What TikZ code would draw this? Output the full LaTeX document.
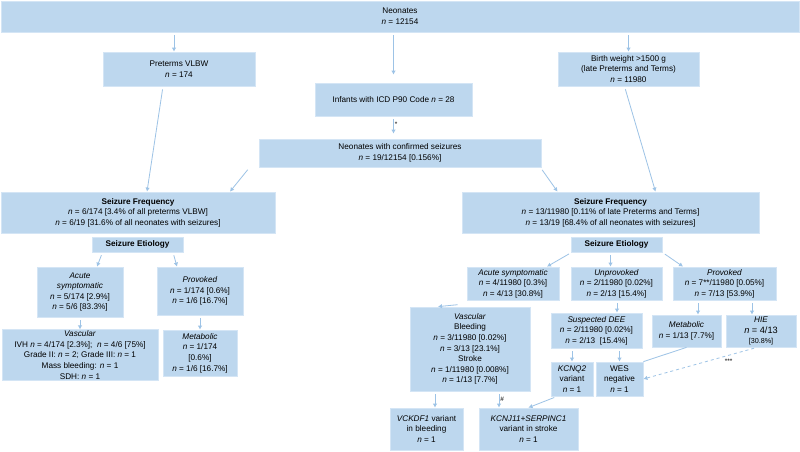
\documentclass[tikz,border=0pt]{standalone}
\usepackage{fontspec}
\setmainfont{Liberation Sans}
\setsansfont{Liberation Sans}
\usetikzlibrary{arrows.meta, positioning}
\definecolor{cfill}{HTML}{BDD7EE}
\definecolor{cedge}{HTML}{D4E5F5}
\definecolor{carrow}{HTML}{9DC3E6}
\newcommand{\nn}{\textit{n}}
\tikzset{
  every picture/.style={font=\sffamily\fontsize{8.2}{10.6}\selectfont, line width=0.8pt},
  box/.style={draw=cedge, fill=cfill, align=center, inner sep=1pt},
  sz/.style 2 args={minimum width=#1pt, minimum height=#2pt},
  arrow/.style={-{Latex[length=4pt, width=4.5pt]}, draw=carrow, line width=0.8pt, shorten <=3pt},
  link/.style={draw=carrow, line width=0.8pt},
  tag/.style={font=\sffamily\fontsize{6.5}{7}\selectfont, inner sep=1pt},
}

\begin{document}
\begin{tikzpicture}[x=1pt, y=-1pt]
  \useasboundingbox[fill=white] (0,0) rectangle (800,451);
  % top: whole cohort and its three groups
  \node[box, sz={798}{31}] (neo) at (400,16.5) {Neonates\\\nn{} = 12154};
  \node[box, sz={152}{34}] (vlbw) at (179,69) {Preterms VLBW\\\nn{} = 174};
  \node[box, sz={157}{33}] (icd) at (393.5,99.5) {Infants with ICD P90 Code \nn{} = 28};
  \node[box, sz={141}{34}] (bw) at (628.5,69) {Birth weight >1500 g\\(late Preterms and Terms)\\\nn{} = 11980};
  \node[box, sz={282}{28}] (conf) at (400,153) {Neonates with confirmed seizures\\\nn{} = 19/12154 [0.156\%]};
  % left branch: preterms VLBW
  \node[box, sz={274}{41}] (freqL) at (138,212.5) {\textbf{Seizure Frequency}\\\nn{} = 6/174 [3.4\% of all preterms VLBW]\\\nn{} = 6/19 [31.6\% of all neonates with seizures]};
  \node[box, sz={91}{15}] (etioL) at (137.5,244.5) {\textbf{Seizure Etiology}};
  \node[box, sz={86}{50}] (acuteL) at (80,292) {\textit{Acute}\\\textit{symptomatic}\\\nn{} = 5/174 [2.9\%]\\\nn{} = 5/6 [83.3\%]};
  \node[box, sz={86}{48}] (provL) at (200,291) {\textit{Provoked}\\\nn{} = 1/174 [0.6\%]\\\nn{} = 1/6 [16.7\%]};
  \node[box, sz={156}{50}] (vascL) at (80,355) {\textit{Vascular}\\IVH \nn{} = 4/174 [2.3\%];\ \ \nn{} = 4/6 [75\%]\\Grade II: \nn{} = 2; Grade III: \nn{} = 1\\Mass bleeding: \nn{} = 1\\SDH: \nn{} = 1};
  \node[box, sz={74}{46}] (metL) at (200,353) {\textit{Metabolic}\\\nn{} = 1/174\\{[}0.6\%{]}\\\nn{} = 1/6 [16.7\%]};
  % right branch: late preterms and terms
  \node[box, sz={297}{41}] (freqR) at (610.5,212.5) {\textbf{Seizure Frequency}\\\nn{} = 13/11980 [0.11\% of late Preterms and Terms]\\\nn{} = 13/19 [68.4\% of all neonates with seizures]};
  \node[box, sz={91}{15}] (etioR) at (616.5,244.5) {\textbf{Seizure Etiology}};
  \node[box, sz={92}{33}] (acuteR) at (513,283.5) {\textit{Acute symptomatic}\\\nn{} = 4/11980 [0.3\%]\\\nn{} = 4/13 [30.8\%]};
  \node[box, sz={91}{33}] (unprov) at (616.5,283.5) {\textit{Unprovoked}\\\nn{} = 2/11980 [0.02\%]\\\nn{} = 2/13 [15.4\%]};
  \node[box, sz={103}{33}] (provR) at (724.5,283.5) {\textit{Provoked}\\\nn{} = 7**/11980 [0.05\%]\\\nn{} = 7/13 [53.9\%]};
  \node[box, sz={120}{84}] (vascR) at (470,349) {\textit{Vascular}\\Bleeding\\\nn{} = 3/11980 [0.02\%]\\\nn{} = 3/13 [23.1\%]\\Stroke\\\nn{} = 1/11980 [0.008\%]\\\nn{} = 1/13 [7.7\%]};
  \node[box, sz={91}{35}] (dee) at (596.5,330.5) {\textit{Suspected DEE}\\\nn{} = 2/11980 [0.02\%]\\\nn{} = 2/13\ \ [15.4\%]};
  \node[box, sz={69}{32}] (metR) at (686.5,331) {\textit{Metabolic}\\\nn{} = 1/13 [7.7\%]};
  \node[box, sz={70}{32}] (hie) at (761,331) {\textit{HIE}\\{\fontsize{9.2}{10}\selectfont\nn{} = 4/13}\\{\fontsize{7.2}{9}\selectfont[30.8\%]}};
  \node[box, sz={42}{34}] (kcnq) at (572,379) {\textit{KCNQ2}\\variant\\\nn{} = 1};
  \node[box, sz={47}{34}] (wes) at (619.5,379) {WES\\negative\\\nn{} = 1};
  % bottom row: variants found
  \node[box, sz={73}{42}] (vckdf) at (426.5,429) {\textit{VCKDF1} variant\\in bleeding\\\nn{} = 1};
  \node[box, sz={99}{42}] (kcnj) at (528.5,429) {\textit{KCNJ11+SERPINC1}\\variant in stroke\\\nn{} = 1};

  % connectors from the cohort
  \draw[arrow] ([xshift=-5pt]vlbw.north |- neo.south) -- ([xshift=-5pt]vlbw.north);
  \draw[arrow, shorten >=8pt] (neo.south -| icd.north) -- (icd.north);
  \draw[arrow] (neo.south -| bw.north) -- (bw.north);
  \draw[arrow, shorten >=5pt] (icd.south) -- node[right, tag, pos=0.35]{*} (icd.south |- conf.north);
  \draw[arrow] ([xshift=-16pt]vlbw.south) -- ([xshift=9pt]freqL.north);
  \draw[arrow] ([xshift=-9pt]conf.south west) -- ([xshift=92pt]freqL.north);
  \draw[arrow] ([xshift=-1pt]conf.south east) -- ([xshift=-53pt]freqR.north);
  \draw[arrow] ([xshift=-4pt]bw.south) -- ([xshift=45pt]freqR.north);
  % left etiology
  \draw[arrow] ([xshift=-35pt]etioL.south) -- ([xshift=17pt]acuteL.north);
  \draw[arrow] ([xshift=35.5pt]etioL.south) -- ([xshift=-23pt]provL.north);
  \draw[arrow] (acuteL.south) -- (vascL.north);
  \draw[arrow] (provL.south) -- (metL.north);
  % right etiology
  \draw[arrow] ([xshift=1pt]etioR.south west) -- ([xshift=34pt]acuteR.north);
  \draw[arrow] ([xshift=-6pt]etioR.south) -- ([xshift=-6pt]unprov.north);
  \draw[arrow] (etioR.south east) -- ([xshift=-41.5pt]provR.north);
  \draw[arrow] ([xshift=-6pt, yshift=-4pt]acuteR.south west) -- ([xshift=-32pt]vascR.north);
  \draw[arrow] (unprov.south -| dee.north) ++(20.5,0) coordinate (u1) -- (u1 |- dee.north);
  \draw[arrow] ([xshift=11.5pt]metR.north |- provR.south) -- ([xshift=11.5pt]metR.north);
  \draw[arrow] ([xshift=-9pt]hie.north |- provR.south) -- ([xshift=-9pt]hie.north);
  \draw[arrow] (kcnq.north |- dee.south) -- (kcnq.north);
  \draw[arrow] (wes.north |- dee.south) -- (wes.north);
  \draw[link] (metR.south) -- (wes.north east);
  \draw[arrow, dashed] ([xshift=-4pt]hie.south) -- node[below, tag, pos=0.25, yshift=-2pt]{***} (wes.east);
  % variants
  \draw[arrow] ([xshift=-35pt]vascR.south) -- ([xshift=8.5pt]vckdf.north);
  \draw[arrow] ([xshift=29pt]vascR.south) -- node[right, tag]{\#} ([xshift=-29.5pt]kcnj.north);
  \draw[arrow] ([xshift=-15pt]kcnq.south) -- (kcnj.north);
\end{tikzpicture}
\end{document}
